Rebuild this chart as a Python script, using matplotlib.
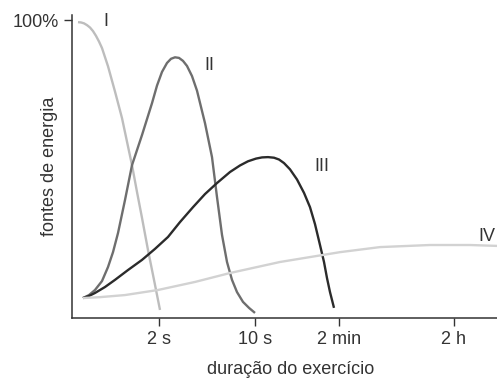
import matplotlib
matplotlib.use("Agg")
import matplotlib.pyplot as plt

plt.rcParams["font.family"] = ["Liberation Sans", "DejaVu Sans"]

# curve samples (x: arbitrary time axis, y: % of energy)
i_x = [6, 9, 12, 15, 18, 21, 24, 27, 30, 36, 43, 50, 56, 60, 65, 70, 76, 82, 88]
i_y = [99.3, 99.2, 98.9, 98.3, 97.5, 96.3, 94.7, 92.8, 90.6, 84.5, 76.0, 67.1, 57.6,
       51.3, 42.3, 33.6, 22.8, 12.8, 2.7]

ii_x = [11, 17, 23, 30, 36, 41, 46, 53, 60, 70, 80, 85, 90, 95, 99, 103, 107, 111,
        115, 120, 125, 133, 140, 145, 150, 155, 160, 165, 171, 177, 183]
ii_y = [6.7, 7.7, 9.4, 12.4, 17.1, 22.1, 28.5, 39.6, 51.3, 61.4, 72.1, 78.0, 82.6,
        85.6, 87.0, 87.5, 87.3, 86.3, 84.6, 81.2, 76.3, 65.4, 54.0, 40.6, 27.9, 18.8,
        12.8, 8.7, 5.4, 3.4, 1.7]

iii_x = [11, 17, 23, 33, 43, 56, 70, 83, 96, 108, 121, 133, 145, 158, 168, 176, 184,
         190, 196, 202, 207, 212, 218, 225, 232, 238, 243, 248, 252, 255, 258, 262]
iii_y = [6.7, 7.4, 8.4, 10.4, 12.8, 16.1, 19.5, 23.2, 27.2, 32.2, 37.2, 41.6, 45.3,
         49.0, 51.2, 52.6, 53.5, 53.9, 54.0, 53.8, 53.2, 52.0, 49.9, 46.5, 42.0, 37.2,
         31.5, 24.5, 18.8, 13.4, 8.7, 3.4]

iv_x = [11, 28, 53, 86, 123, 158, 208, 268, 308, 358, 398, 425]
iv_y = [6.7, 7.0, 7.7, 9.4, 12.1, 15.1, 18.8, 22.1, 23.8, 24.5, 24.5, 24.2]

curve_labels = ["I", "II", "III", "IV"]
label_x = [31, 132, 242, 406]
label_y = [99.6, 84.6, 50.7, 27.2]

tick_pos = [87, 183, 267, 382]
tick_labels = ["2 s", "10 s", "2 min", "2 h"]

fig = plt.figure(figsize=(4.97, 3.80), dpi=100)
ax = fig.add_axes([72 / 497, 62 / 380, 425 / 497, 303 / 380])

ink = "#333333"
line_kw = dict(lw=1.7, solid_capstyle="butt", solid_joinstyle="round")
ax.plot(i_x, i_y, color="#bdbdbd", **line_kw)
ax.plot(ii_x, ii_y, color="#6e6e6e", **line_kw)
ax.plot(iii_x, iii_y, color="#2b2b2b", **line_kw)
ax.plot(iv_x, iv_y, color="#d2d2d2", **line_kw)

for lab, lx, ly in zip(curve_labels, label_x, label_y):
    ax.text(lx, ly, lab, fontsize=13, color=ink, ha="left", va="center")

ax.set_xlim(0, 425)
ax.set_ylim(0, 101.7)
ax.set_xticks(tick_pos)
ax.set_xticklabels(tick_labels)
ax.set_yticks([100])
ax.set_yticklabels(["100%"])
ax.tick_params(direction="out", length=5.5, width=1, color=ink, labelcolor=ink,
               labelsize=13, pad=4)

for side in ["top", "right"]:
    ax.spines[side].set_visible(False)
for side in ["left", "bottom"]:
    ax.spines[side].set_color(ink)
    ax.spines[side].set_linewidth(1.1)

ax.set_xlabel("duração do exercício", fontsize=13, color=ink, va="center")
ax.xaxis.set_label_coords(219 / 425, -52 / 303)
ax.set_ylabel("fontes de energia", fontsize=13, color=ink, va="center")
ax.yaxis.set_label_coords(-22 / 425, 152 / 303)

fig.savefig("out.png", dpi=100, facecolor="white")
